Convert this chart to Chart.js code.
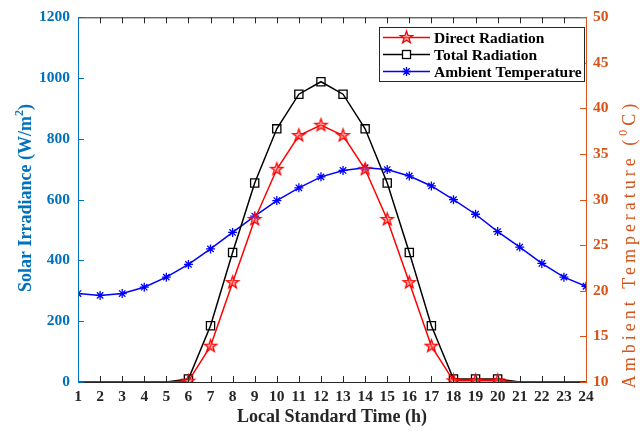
<!DOCTYPE html>
<html><head><meta charset="utf-8">
<script src="https://cdn.jsdelivr.net/npm/chart.js@4/dist/chart.umd.min.js"></script>
<style>html,body{margin:0;padding:0;background:#fff}#wrap{width:640px;height:432px}</style>
</head><body><div id="wrap"><canvas id="c" width="640" height="432"></canvas></div>
<script>
const hours = [1,2,3,4,5,6,7,8,9,10,11,12,13,14,15,16,17,18,19,20,21,22,23,24];
const directRadiation = [0,0,0,0,0,3,118,327,535,700,811,845,811,700,535,327,118,4,4,4,0,0,0,0];
const totalRadiation = [0,0,0,0,0,10,185,426,655,833,947,988,947,833,655,426,185,10,10,10,0,0,0,0];
const ambientTemperature = [19.7,19.5,19.7,20.4,21.5,22.9,24.6,26.4,28.2,29.9,31.3,32.5,33.2,33.5,33.3,32.6,31.5,30.0,28.4,26.5,24.8,23.0,21.5,20.5];
const seriesLabels = ['Direct Radiation','Total Radiation','Ambient Temperature'];
const irradianceRange = [0,1200,200];
const temperatureRange = [10,50,5];
const xTitle = 'Local Standard Time (h)';

const BLUE_AX = '#0072BD', ORANGE_AX = '#D95319', DARK = '#262626';
const SERIF = '"Liberation Serif","Times New Roman",serif';

function makeStar(r, color){
  const s = Math.ceil(r*2+4); const c=document.createElement('canvas'); c.width=c.height=s;
  const g=c.getContext('2d'); g.translate(s/2,s/2); g.beginPath();
  for(let i=0;i<10;i++){const rr = i%2? r*0.4 : r; const a = -Math.PI/2 + i*Math.PI/5; g.lineTo(rr*Math.cos(a), rr*Math.sin(a));}
  g.closePath(); g.fillStyle='rgba(255,110,110,0.5)'; g.fill(); g.strokeStyle=color; g.lineWidth=1.3; g.stroke(); return c;
}
const starImg = makeStar(6.5,'#ff0000');
const markRange = (ctx) => (ctx.dataIndex>=5 && ctx.dataIndex<=19);
const pts = arr => hours.map((h,i)=>({x:h,y:arr[i]}));

function drawParts(ctx, parts, font, supFont, x, y, align){
  let w=0; parts.forEach(p=>{ctx.font=p.sup?supFont:font; w+=ctx.measureText(p.t).width;});
  let cx = align==='center'? x-w/2 : x;
  ctx.textBaseline='alphabetic'; ctx.textAlign='left';
  parts.forEach(p=>{ctx.font=p.sup?supFont:font; ctx.fillText(p.t,cx,p.sup?y-8:y); cx+=ctx.measureText(p.t).width;});
}

const decor = {
  id:'decor',
  afterDatasetsDraw(chart){
    const ctx=chart.ctx, a=chart.chartArea, xs=chart.scales.x, yl=chart.scales.y, yr=chart.scales.y1;
    ctx.save();
    ctx.lineWidth=1;
    ctx.strokeStyle=DARK;
    ctx.beginPath(); ctx.moveTo(a.left,a.top+0.5); ctx.lineTo(a.right,a.top+0.5);
    ctx.moveTo(a.left,a.bottom+0.5); ctx.lineTo(a.right,a.bottom+0.5);
    hours.forEach(h=>{const px=Math.round(xs.getPixelForValue(h))+0.5;
      ctx.moveTo(px,a.bottom); ctx.lineTo(px,a.bottom-6); ctx.moveTo(px,a.top); ctx.lineTo(px,a.top+6);});
    ctx.stroke();
    ctx.strokeStyle=BLUE_AX; ctx.beginPath(); ctx.moveTo(a.left+0.5,a.top); ctx.lineTo(a.left+0.5,a.bottom+1);
    for(let v=irradianceRange[0]; v<=irradianceRange[1]; v+=irradianceRange[2]){const py=Math.round(yl.getPixelForValue(v))+0.5; ctx.moveTo(a.left,py); ctx.lineTo(a.left+6,py);}
    ctx.stroke();
    ctx.strokeStyle=ORANGE_AX; ctx.beginPath(); ctx.moveTo(a.right+0.5,a.top); ctx.lineTo(a.right+0.5,a.bottom+1);
    for(let v=temperatureRange[0]; v<=temperatureRange[1]; v+=temperatureRange[2]){const py=Math.round(yr.getPixelForValue(v))+0.5; ctx.moveTo(a.right,py); ctx.lineTo(a.right-6,py);}
    ctx.stroke();
    // titles
    ctx.fillStyle=DARK; ctx.font='bold 18px '+SERIF; ctx.textAlign='center'; ctx.textBaseline='middle';
    ctx.fillText(xTitle,(a.left+a.right)/2,417);
    ctx.save(); ctx.translate(31,198); ctx.rotate(-Math.PI/2); ctx.fillStyle=BLUE_AX;
    drawParts(ctx,[{t:'Solar Irradiance (W/m'},{t:'2',sup:true},{t:')'}],'bold 18px '+SERIF,'bold 12px '+SERIF,0,0,'center');
    ctx.restore();
    ctx.save(); ctx.translate(635,244); ctx.rotate(-Math.PI/2); ctx.fillStyle=ORANGE_AX;
    ctx.letterSpacing='4px';
    drawParts(ctx,[{t:'Ambient Temperature ('},{t:'0',sup:true},{t:'C)'}],'18px '+SERIF,'12px '+SERIF,0,0,'center');
    ctx.restore();
    // legend
    const L=379,T=27,R=584,B=81;
    ctx.fillStyle='#fff'; ctx.fillRect(L,T,R-L,B-T);
    ctx.strokeStyle=DARK; ctx.lineWidth=1; ctx.strokeRect(L+0.5,T+0.5,R-L,B-T);
    const rows=[37.5,54.5,71.5]; const cols=['#ff0000','#000000','#0000ff'];
    rows.forEach((ry,i)=>{
      ctx.strokeStyle=cols[i]; ctx.lineWidth=1.5; ctx.beginPath(); ctx.moveTo(383,ry); ctx.lineTo(430,ry); ctx.stroke();
      const mx=406.5;
      if(i===0){ctx.drawImage(starImg,mx-starImg.width/2,ry-starImg.height/2);}
      else if(i===1){ctx.fillStyle='#fff'; ctx.fillRect(mx-4,ry-4,8,8); ctx.lineWidth=1.3; ctx.strokeRect(mx-4,ry-4,8,8);}
      else {ctx.lineWidth=1.3; ctx.beginPath(); const r=4.5; for(let k=0;k<4;k++){const an=k*Math.PI/4; ctx.moveTo(mx-r*Math.cos(an),ry-r*Math.sin(an)); ctx.lineTo(mx+r*Math.cos(an),ry+r*Math.sin(an));} ctx.stroke();}
      ctx.fillStyle='#000'; ctx.font='bold 15.5px '+SERIF; ctx.textAlign='left'; ctx.textBaseline='middle';
      ctx.fillText(seriesLabels[i],434,ry+1);
    });
    ctx.restore();
  }
};

const tickFont = {family:SERIF,size:15.5,weight:'bold'};
new Chart(document.getElementById('c'),{
  type:'line',
  data:{datasets:[
    {label:seriesLabels[0],data:pts(directRadiation),yAxisID:'y',borderColor:'#ff0000',borderWidth:1.5,
     pointStyle:starImg,pointRadius:c=>markRange(c)?6:0,pointHoverRadius:0,backgroundColor:'#ff0000',tension:0},
    {label:seriesLabels[1],data:pts(totalRadiation),yAxisID:'y',borderColor:'#000000',borderWidth:1.5,
     pointStyle:'rect',pointRadius:c=>markRange(c)?5.8:0,pointBorderWidth:1.3,pointBackgroundColor:'rgba(255,255,255,0)',pointBorderColor:'#000',tension:0},
    {label:seriesLabels[2],data:pts(ambientTemperature),yAxisID:'y1',borderColor:'#0000ff',borderWidth:1.5,
     pointStyle:'star',pointRadius:4.5,pointBorderWidth:1.3,pointBorderColor:'#0000ff',pointBackgroundColor:'#0000ff',tension:0}
  ]},
  options:{
    responsive:false,animation:false,devicePixelRatio:1,
    layout:{padding:{top:12,left:0,right:0,bottom:0}},
    plugins:{legend:{display:false},tooltip:{enabled:false}},
    scales:{
      x:{type:'linear',min:1,max:24,afterFit:s=>{s.height=50;},
         grid:{display:false,drawTicks:false},border:{display:false},
         ticks:{stepSize:1,autoSkip:false,maxRotation:0,padding:6,color:DARK,font:tickFont,callback:v=>String(v)}},
      y:{position:'left',min:irradianceRange[0],max:irradianceRange[1],afterFit:s=>{s.width=78;},
         grid:{display:false,drawTicks:false},border:{display:false},
         ticks:{stepSize:irradianceRange[2],padding:8,color:BLUE_AX,font:tickFont,callback:v=>String(v)}},
      y1:{position:'right',min:temperatureRange[0],max:temperatureRange[1],afterFit:s=>{s.width=54;},
         grid:{display:false,drawTicks:false},border:{display:false},
         ticks:{stepSize:temperatureRange[2],padding:7,color:ORANGE_AX,font:tickFont,callback:v=>String(v)}}
    }
  },
  plugins:[decor]
});
</script></body></html>
